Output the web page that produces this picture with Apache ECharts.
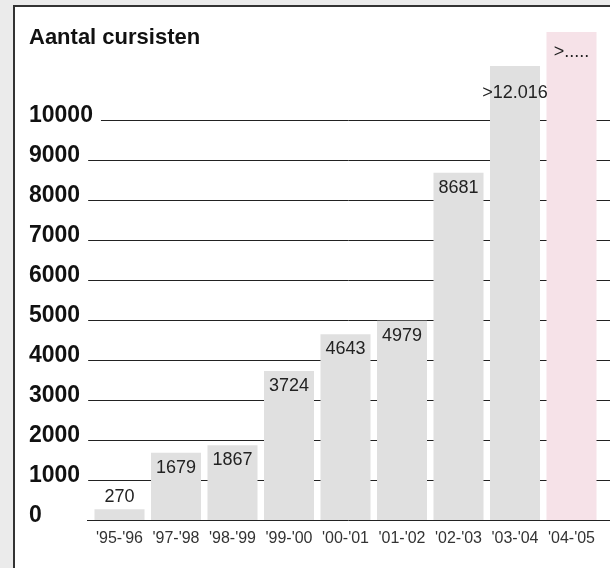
<!DOCTYPE html>
<html>
<head>
<meta charset="utf-8">
<script src="https://cdn.jsdelivr.net/npm/echarts@6/dist/echarts.min.js"></script>
<style>
  html, body { margin: 0; padding: 0; background: #ebebeb; }
  #frame {
    position: absolute; left: 13px; top: 5px; width: 620px; height: 580px;
    background: #fff; border-left: 2px solid #333; border-top: 2px solid #333;
  }
  #chart { position: absolute; left: 0; top: 0; width: 610px; height: 568px; }
</style>
</head>
<body>
<div id="frame"></div>
<div id="chart"></div>
<script>
const years = ["'95-'96", "'97-'98", "'98-'99", "'99-'00", "'00-'01", "'01-'02", "'02-'03", "'03-'04", "'04-'05"];
// bar heights as drawn (last two are not to scale in the original)
const counts = [270, 1679, 1867, 3724, 4643, 4979, 8681, 11350, 12200];
const countLabels = ['270', '1679', '1867', '3724', '4643', '4979', '8681', '>12.016', '>.....'];
const barColors = ['#e0e0e0', '#e0e0e0', '#e0e0e0', '#e0e0e0', '#e0e0e0', '#e0e0e0', '#e0e0e0', '#e0e0e0', '#f6e2e8'];
const labelDistance = [3, 6, 6, 6, 6, 6, 6, 18, 11];

const fontFamily = '"Liberation Sans", Arial, sans-serif';

const chart = echarts.init(document.getElementById('chart'));

const barData = counts.map((v, i) => ({
  value: v,
  itemStyle: { color: barColors[i] },
  label: {
    position: i === 0 ? 'top' : 'insideTop',
    distance: labelDistance[i],
  },
}));

const valueAxis = { type: 'value', min: 0, max: 10000, interval: 1000 };

chart.setOption({
  animation: false,
  textStyle: { fontFamily },
  title: {
    text: 'Aantal cursisten',
    left: 29,
    top: 27,
    padding: 0,
    textStyle: { fontSize: 22, fontWeight: 'bold', color: '#111', fontFamily },
  },
  grid: [
    { left: 87, right: 0, top: 120, bottom: 48 },        // grid lines
    { left: 91.25, right: 10.25, top: 120, bottom: 48 }, // bars
    { left: 91.25, right: 10.25, top: 116, bottom: 52 }, // y labels sit a bit above the lines
  ],
  xAxis: [
    { gridIndex: 0, type: 'category', data: years, show: false },
    {
      gridIndex: 1,
      type: 'category',
      data: years,
      axisLine: { show: false },
      axisTick: { show: false },
      axisLabel: { interval: 0, fontSize: 16, color: '#333', margin: 11, fontFamily },
    },
    { gridIndex: 2, type: 'category', data: years, show: false },
  ],
  yAxis: [
    {
      ...valueAxis,
      gridIndex: 0,
      z: 0,
      axisLine: { show: false },
      axisTick: { show: false },
      axisLabel: { show: false },
      splitLine: { lineStyle: { color: '#222', width: 1 } },
    },
    {
      ...valueAxis,
      gridIndex: 1,
      show: false,
    },
    {
      ...valueAxis,
      gridIndex: 2,
      z: 3,
      axisLine: { show: false },
      axisTick: { show: false },
      splitLine: { show: false },
      axisLabel: {
        formatter: (v) => String(v),
        align: 'left',
        margin: 62.25,
        fontSize: 23,
        fontWeight: 'bold',
        color: '#111',
        fontFamily,
        backgroundColor: '#fff',
        padding: [3, 8, 3, 0],
      },
    },
  ],
  series: [
    {
      type: 'bar',
      xAxisIndex: 1,
      yAxisIndex: 1,
      data: barData,
      barWidth: 50,
      clip: false,
      label: {
        show: true,
        fontSize: 18,
        color: '#222',
        fontFamily,
        formatter: (p) => countLabels[p.dataIndex],
      },
    },
  ],
});
</script>
</body>
</html>
